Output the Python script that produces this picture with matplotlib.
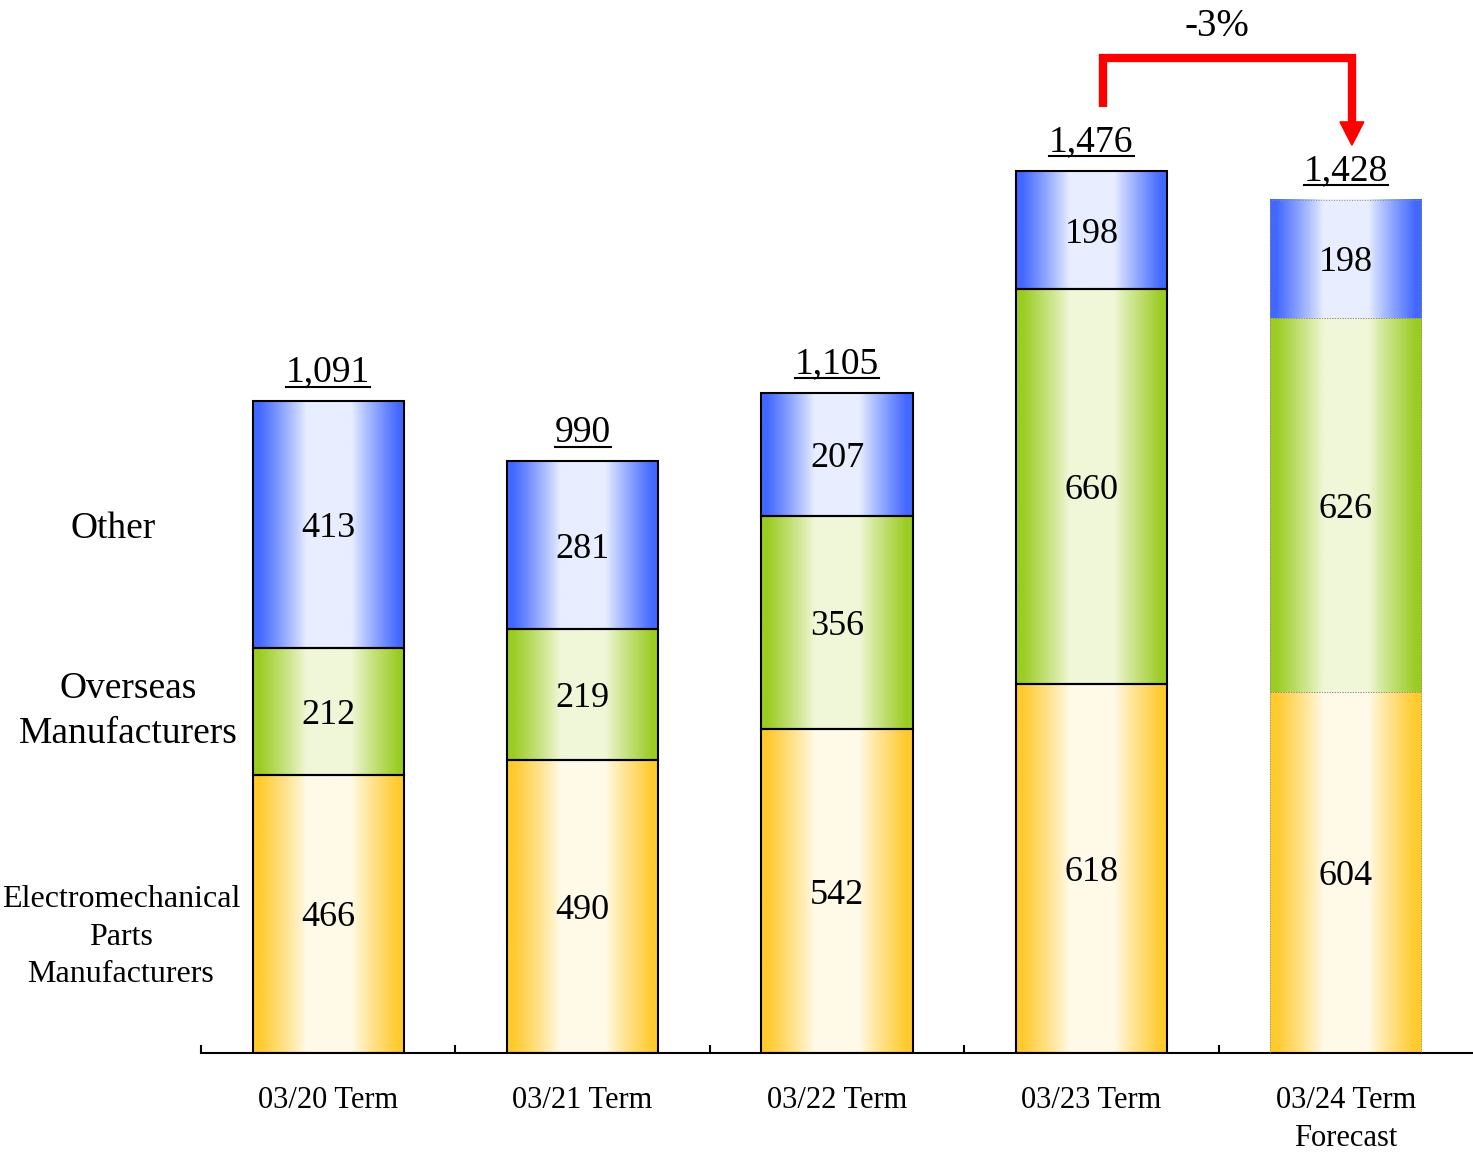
import numpy as np
import matplotlib
matplotlib.use("Agg")
import matplotlib.pyplot as plt
from matplotlib.lines import Line2D
from matplotlib.patches import Polygon
from matplotlib.transforms import blended_transform_factory, offset_copy

# ---- data -------------------------------------------------------------
categories = ["03/20 Term", "03/21 Term", "03/22 Term", "03/23 Term", "03/24 Term\nForecast"]
electromech = [466, 490, 542, 618, 604]
overseas = [212, 219, 356, 660, 626]
other = [413, 281, 207, 198, 198]
totals = [1091, 990, 1105, 1476, 1428]
series_names = ["Electromechanical\nParts\nManufacturers", "Overseas\nManufacturers", "Other"]
change_label = "-3%"

# ---- style --------------------------------------------------------------
plt.rcParams["font.family"] = ["Liberation Serif", "DejaVu Serif"]
edge_rgb = {
    "yellow": (255, 202, 45),
    "green": (155, 204, 35),
    "blue": (66, 104, 255),
}
center_rgb = {
    "yellow": (255, 250, 232),
    "green": (240, 247, 216),
    "blue": (232, 238, 255),
}


def gradient_strip(key, n=256):
    u = np.linspace(0, 1, n)
    t = np.abs(2 * u - 1)
    f = np.clip((t - 0.30) / 0.62, 0, 1) ** 0.9
    e = np.array(edge_rgb[key]) / 255.0
    c = np.array(center_rgb[key]) / 255.0
    cols = c[None, :] + (e - c)[None, :] * f[:, None]
    return cols[None, :, :]


W, H = 1473, 1153
PX = 100 / 72  # pixels per point
fig = plt.figure(figsize=(W / 100, H / 100), dpi=100)
base_px = 1053
ax = fig.add_axes([201 / W, (H - base_px) / H, 1 - 201 / W, base_px / H])

x = np.arange(len(categories))
bar_w = 0.594
ymax = 1762
seg_text_tr = offset_copy(ax.transData, fig=fig, x=0, y=-3, units="points")

stack = [("yellow", electromech), ("green", overseas), ("blue", other)]
bottoms = np.zeros(len(categories))
for key, vals in stack:
    edgecolors = ["black"] * (len(categories) - 1) + ["#8a8a8a"]
    lws = [1.5] * (len(categories) - 1) + [0.7]
    bars = ax.bar(x, vals, bar_w, bottom=bottoms, facecolor="none",
                  edgecolor=edgecolors, linewidth=lws, zorder=3)
    bars.patches[-1].set_linestyle(":")
    for p, v in zip(bars.patches, vals):
        x0, y0, w, h = p.get_x(), p.get_y(), p.get_width(), p.get_height()
        ax.imshow(gradient_strip(key), extent=(x0, x0 + w, y0, y0 + h),
                  aspect="auto", interpolation="bilinear", zorder=2)
        ax.text(x0 + w / 2, y0 + h / 2, f"{v:,}", ha="center", va="center",
                fontsize=26, zorder=5, transform=seg_text_tr)
    bottoms = bottoms + np.array(vals)

ax.set_xlim(-0.5, len(categories) - 0.5)
ax.set_ylim(0, ymax)

# axis styling
for s in ("left", "top", "right"):
    ax.spines[s].set_visible(False)
ax.spines["bottom"].set_linewidth(1.5)
ax.set_yticks([])
ax.set_xticks(x)
ax.set_xticklabels(categories, fontsize=22, linespacing=1.4)
ax.tick_params(axis="x", which="major", length=0, pad=24)
ax.set_xticks(np.arange(-0.5, len(categories) - 0.5, 1.0), minor=True)
ax.tick_params(axis="x", which="minor", direction="in", length=6, width=1.5)

# totals above the bars, underlined
label_off = 14  # points above the bar top
total_texts = []
for xi, tot in zip(x, totals):
    t = ax.annotate(f"{tot:,}", xy=(xi, tot), xytext=(0, label_off),
                    textcoords="offset points", ha="center", va="baseline",
                    fontsize=27, zorder=5, annotation_clip=False)
    total_texts.append((xi, tot, t))
fig.canvas.draw()
renderer = fig.canvas.get_renderer()
for xi, tot, t in total_texts:
    bb = t.get_window_extent(renderer)
    base_y = ax.transData.transform((xi, tot))[1] + label_off * PX
    y_line = base_y - 5
    fig.add_artist(Line2D([bb.x0 / W, bb.x1 / W], [y_line / H, y_line / H],
                          transform=fig.transFigure, color="black", lw=1.5,
                          zorder=10))

# series names on the left
trans = blended_transform_factory(fig.transFigure, ax.transData)
ax.text(113 / W, 878, series_names[2], transform=trans, ha="center", va="center",
        fontsize=27, clip_on=False)
ax.text(128 / W, 572, series_names[1], transform=trans, ha="center", va="center",
        fontsize=27, linespacing=1.37, clip_on=False)
ax.text(121 / W, 194, series_names[0], transform=trans, ha="center", va="center",
        fontsize=23, linespacing=1.38, clip_on=False)

# change bracket between the last two terms
red = "#ff0000"
x_left, x_right = 3.045, 4.024
y_start, y_top, y_head = 1583, 1665, 1558
ax.plot([x_left, x_left, x_right, x_right], [y_start, y_top, y_top, y_head],
        color=red, lw=6, solid_joinstyle="miter", solid_capstyle="butt",
        zorder=6, clip_on=False)
ax.add_patch(Polygon([[x_right - 0.047, y_head], [x_right + 0.047, y_head],
                      [x_right, 1519]], closed=True, color=red, zorder=6,
                     clip_on=False))
ax.text(3.494, 1717, change_label, ha="center", va="center", fontsize=28,
        clip_on=False)

fig.savefig("out.png", dpi=100)
